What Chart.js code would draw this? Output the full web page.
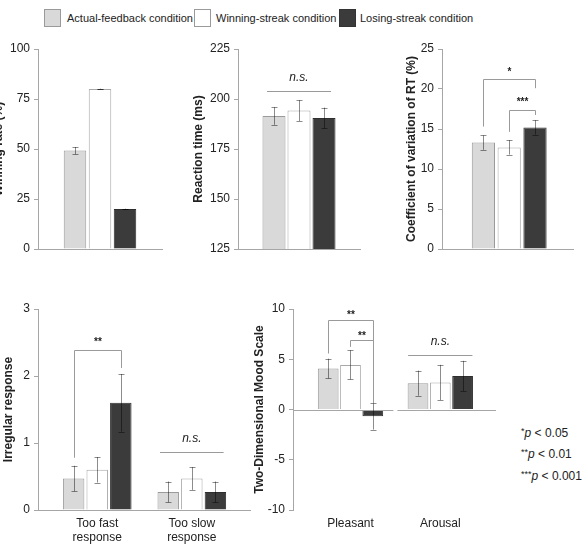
<!DOCTYPE html>
<html><head><meta charset="utf-8">
<script src="https://cdn.jsdelivr.net/npm/chart.js@4.4.1/dist/chart.umd.min.js"></script>
<style>
html,body{margin:0;padding:0;background:#fff;width:584px;height:549px;overflow:hidden;position:relative;font-family:"Liberation Sans",Arial,Helvetica,sans-serif;color:#222;}
canvas{position:absolute;}
.lg{position:absolute;top:9px;height:16px;width:15px;border:1px solid #9a9a9a;}
.lt{position:absolute;top:11px;font-size:11px;line-height:14px;white-space:nowrap;}
.sig{position:absolute;left:521px;font-size:12px;line-height:14px;white-space:nowrap;}
.sig .st{font-size:9px;position:relative;top:-3px;}
</style></head><body>
<div class="lg" style="left:44px;background:#d9d9d9;"></div><div class="lt" style="left:67px;">Actual-feedback condition</div>
<div class="lg" style="left:194px;background:#ffffff;"></div><div class="lt" style="left:216px;">Winning-streak condition</div>
<div class="lg" style="left:339px;background:#3b3b3b;border-color:#333;"></div><div class="lt" style="left:360px;">Losing-streak condition</div>

<canvas id="c1" width="176" height="230" style="left:-9px;top:35px;"></canvas>
<canvas id="c2" width="174" height="230" style="left:191px;top:35px;"></canvas>
<canvas id="c3" width="175" height="230" style="left:404px;top:35px;"></canvas>
<canvas id="c4" width="253" height="254" style="left:1px;top:295px;"></canvas>
<canvas id="c5" width="249" height="254" style="left:252px;top:295px;"></canvas>

<div class="sig" style="top:426px;"><span class="st">*</span><i>p</i> &lt; 0.05</div>
<div class="sig" style="top:447px;"><span class="st">**</span><i>p</i> &lt; 0.01</div>
<div class="sig" style="top:469px;"><span class="st">***</span><i>p</i> &lt; 0.001</div>

<script>
// ---------- data ----------
const conditions = ['Actual-feedback condition', 'Winning-streak condition', 'Losing-streak condition'];

// Winning rate (%)
const winRate    = [49.2, 80.0, 20.0];
const winRateErr = [1.8, 0.15, 0.15];
const winTicks   = [0, 100, 25];      // min, max, step

// Reaction time (ms)
const rtMean  = [191.5, 194.2, 190.5];
const rtErr   = [4.4, 5.2, 5.2];
const rtTicks = [125, 225, 25];

// Coefficient of variation of RT (%)
const cvMean  = [13.3, 12.7, 15.2];
const cvErr   = [0.9, 0.9, 0.9];
const cvTicks = [0, 25, 5];

// Irregular response
const irregularCats   = [['Too fast', 'response'], ['Too slow', 'response']];
const irrActual       = [0.47, 0.27];
const irrWinning      = [0.60, 0.47];
const irrLosing       = [1.60, 0.27];
const irrActualErr    = [0.19, 0.155];
const irrWinningErr   = [0.19, 0.17];
const irrLosingErr    = [0.43, 0.155];
const irrTicks        = [0, 3, 1];

// Two-Dimensional Mood Scale
const moodCats        = ['Pleasant', 'Arousal'];
const moodActual      = [4.08, 2.62];
const moodWinning     = [4.44, 2.69];
const moodLosing      = [-0.67, 3.34];
const moodActualErr   = [0.98, 1.25];
const moodWinningErr  = [1.45, 1.75];
const moodLosingErr   = [1.33, 1.5];
const moodTicks       = [-10, 10, 5];

// ---------- style ----------
Chart.defaults.font.family = "'Liberation Sans', Arial, Helvetica, sans-serif";
Chart.defaults.font.size = 12;
Chart.defaults.color = '#222';
const fillColors   = ['#d9d9d9', '#ffffff', '#3b3b3b'];
const borderColors = ['#9a9a9a', '#a8a8a8', '#2e2e2e'];
const axisColor = '#a6a6a6';
const errColor = 'rgba(0,0,0,0.45)';
const bracketColor = '#9a9a9a';

const marksPlugin = {
  id: 'marks',
  afterDatasetsDraw(chart, args, opts) {
    const ctx = chart.ctx, ys = chart.scales.y, xs = chart.scales.x, ca = chart.chartArea;
    ctx.save();
    // zero line with gap between categories
    if (opts.zeroGap) {
      const y0 = Math.round(ys.getPixelForValue(0)) + 0.5;
      const mid = xs.getPixelForValue(0.5);
      ctx.strokeStyle = axisColor; ctx.lineWidth = 1;
      ctx.beginPath();
      ctx.moveTo(ca.left, y0); ctx.lineTo(mid - 2, y0);
      ctx.moveTo(mid + 2, y0); ctx.lineTo(ca.right, y0);
      ctx.stroke();
      // redraw bars overlapping line region not needed
    }
    // error bars
    chart.data.datasets.forEach((ds, i) => {
      const meta = chart.getDatasetMeta(i);
      meta.data.forEach((el, j) => {
        const v = ds.data[j], e = ds.errors[j];
        const x = Math.round(el.x) + 0.5;
        const yt = ys.getPixelForValue(v + e), yb = ys.getPixelForValue(v - e);
        ctx.strokeStyle = errColor; ctx.lineWidth = 1;
        ctx.beginPath();
        ctx.moveTo(x, yt); ctx.lineTo(x, yb);
        ctx.moveTo(x - 3, Math.round(yt) + 0.5); ctx.lineTo(x + 3, Math.round(yt) + 0.5);
        ctx.moveTo(x - 3, Math.round(yb) + 0.5); ctx.lineTo(x + 3, Math.round(yb) + 0.5);
        ctx.stroke();
      });
    });
    // brackets
    (opts.brackets || []).forEach(b => {
      const xl = Math.round(chart.getDatasetMeta(b.from[0]).data[b.from[1]].x) + 0.5;
      const xr = Math.round(chart.getDatasetMeta(b.to[0]).data[b.to[1]].x) + 0.5;
      const y = Math.round(ys.getPixelForValue(b.y)) + 0.5;
      ctx.strokeStyle = bracketColor; ctx.lineWidth = 1;
      ctx.beginPath();
      ctx.moveTo(xl, ys.getPixelForValue(b.leftBottom)); ctx.lineTo(xl, y);
      ctx.lineTo(xr, y); ctx.lineTo(xr, ys.getPixelForValue(b.rightBottom));
      ctx.stroke();
      ctx.fillStyle = '#222';
      ctx.font = "bold 10px 'Liberation Sans', Arial, sans-serif";
      ctx.textAlign = 'center'; ctx.textBaseline = 'middle';
      ctx.fillText(b.text, (xl + xr) / 2, ys.getPixelForValue(b.textY));
    });
    // n.s. lines
    (opts.ns || []).forEach(n => {
      const first = chart.getDatasetMeta(0).data[n.cat];
      const last = chart.getDatasetMeta(chart.data.datasets.length - 1).data[n.cat];
      const xl = first.x - first.width / 2 + n.inset;
      const xr = last.x + last.width / 2 - n.inset;
      const y = Math.round(ys.getPixelForValue(n.y)) + 0.5;
      ctx.strokeStyle = bracketColor; ctx.lineWidth = 1;
      ctx.beginPath(); ctx.moveTo(xl, y); ctx.lineTo(xr, y); ctx.stroke();
      ctx.fillStyle = '#222';
      ctx.font = "italic 12px 'Liberation Sans', Arial, sans-serif";
      ctx.textAlign = 'center'; ctx.textBaseline = 'middle';
      ctx.fillText('n.s.', (xl + xr) / 2, ys.getPixelForValue(n.textY));
    });
    ctx.restore();
  }
};

function makePanel(p) {
  const datasets = p.series.map((vals, i) => ({
    label: conditions[i], data: vals, errors: p.errors[i],
    backgroundColor: fillColors[i], borderColor: borderColors[i], borderWidth: 1,
    categoryPercentage: p.cp, barPercentage: p.bp
  }));
  const xScale = {
    grid: { display: false, drawTicks: false },
    border: { display: p.xBorder, color: axisColor },
    ticks: { display: p.showX, padding: 6, color: '#222', maxRotation: 0, autoSkip: false, font: { size: 12 } },
    afterFit: s => { s.height = p.xh; }
  };
  if (p.xMap) {
    xScale.afterBuildTicks = s => { s._startValue = p.xMap[0]; s._valueRange = p.xMap[1]; };
  }
  new Chart(document.getElementById(p.id), {
    type: 'bar',
    data: { labels: p.labels, datasets },
    options: {
      responsive: false, animation: false, events: [],
      layout: { padding: p.pad },
      plugins: { legend: { display: false }, tooltip: { enabled: false },
        marks: { brackets: p.brackets, ns: p.ns, zeroGap: p.zeroGap } },
      scales: {
        x: xScale,
        y: {
          min: p.ticks[0], max: p.ticks[1],
          ticks: { stepSize: p.ticks[2], padding: 4, color: '#222', font: { size: 12 } },
          grid: { drawOnChartArea: false, drawTicks: true, tickLength: 4, color: axisColor },
          border: { display: true, color: axisColor },
          title: { display: true, text: p.title, padding: 0, color: '#222', font: { size: 12, weight: 'bold' } },
          afterFit: s => { s.width = p.yw; }
        }
      }
    },
    plugins: [marksPlugin]
  });
}

makePanel({ id: 'c1', labels: [''], title: 'Winning rate (%)', ticks: winTicks,
  series: [[winRate[0]], [winRate[1]], [winRate[2]]],
  errors: [[winRateErr[0]], [winRateErr[1]], [winRateErr[2]]],
  cp: 0.605, bp: 0.9, yw: 47, xh: 10, showX: false, xBorder: true,
  pad: { left: 0, right: 5, top: 14, bottom: 6 } });

makePanel({ id: 'c2', labels: [''], title: 'Reaction time (ms)', ticks: rtTicks,
  series: [[rtMean[0]], [rtMean[1]], [rtMean[2]]],
  errors: [[rtErr[0]], [rtErr[1]], [rtErr[2]]],
  cp: 0.615, bp: 0.92, yw: 47, xh: 10, showX: false, xBorder: true,
  pad: { left: 0, right: 5, top: 14, bottom: 6 },
  ns: [{ cat: 0, y: 204.15, textY: 210.6, inset: 4.5 }] });

makePanel({ id: 'c3', labels: [''], title: 'Coefficient of variation of RT (%)', ticks: cvTicks,
  series: [[cvMean[0]], [cvMean[1]], [cvMean[2]]],
  errors: [[cvErr[0]], [cvErr[1]], [cvErr[2]]],
  cp: 0.591, bp: 0.9, yw: 38, xh: 10, showX: false, xBorder: true, xMap: [-0.513, 1],
  pad: { left: 0, right: 6, top: 14, bottom: 6 },
  brackets: [
    { from: [0, 0], to: [2, 0], y: 21.2, leftBottom: 15.3, rightBottom: 20.1, text: '*', textY: 22.1 },
    { from: [1, 0], to: [2, 0], y: 17.4, leftBottom: 14.65, rightBottom: 16.75, text: '***', textY: 18.4 }
  ] });

makePanel({ id: 'c4', labels: irregularCats, title: 'Irregular response', ticks: irrTicks,
  series: [irrActual, irrWinning, irrLosing],
  errors: [irrActualErr, irrWinningErr, irrLosingErr],
  cp: 0.748, bp: 0.91, yw: 37, xh: 39, showX: true, xBorder: true, xMap: [-0.626, 2.241],
  pad: { left: 0, right: 4, top: 14, bottom: 0 },
  brackets: [
    { from: [0, 0], to: [2, 0], y: 2.39, leftBottom: 0.78, rightBottom: 2.12, text: '**', textY: 2.51 }
  ],
  ns: [{ cat: 1, y: 0.87, textY: 1.07, inset: 2.5 }] });

makePanel({ id: 'c5', labels: moodCats, title: 'Two-Dimensional Mood Scale', ticks: moodTicks,
  series: [moodActual, moodWinning, moodLosing],
  errors: [moodActualErr, moodWinningErr, moodLosingErr],
  cp: 0.745, bp: 0.93, yw: 41, xh: 39, showX: true, xBorder: false, xMap: [-0.6403, 2.2606],
  zeroGap: true,
  pad: { left: 0, right: 5, top: 14, bottom: 0 },
  brackets: [
    { from: [0, 0], to: [2, 0], y: 8.89, leftBottom: 5.57, rightBottom: 0.63, text: '**', textY: 9.38 },
    { from: [1, 0], to: [2, 0], y: 6.9, leftBottom: 6.23, rightBottom: 0.63, text: '**', textY: 7.29 }
  ],
  ns: [{ cat: 1, y: 5.47, textY: 6.73, inset: 0.5 }] });
</script>
</body></html>
